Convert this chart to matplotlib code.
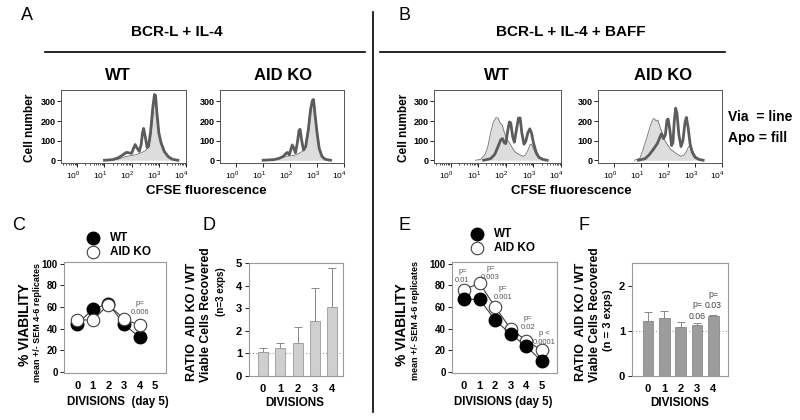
import matplotlib
matplotlib.use("Agg")
import matplotlib.pyplot as plt
import matplotlib.transforms as mtransforms
from matplotlib.lines import Line2D
from matplotlib.ticker import LogLocator, NullFormatter
import numpy as np

plt.rcParams["font.family"] = ["Liberation Sans", "DejaVu Sans"]
plt.rcParams["mathtext.fontset"] = "custom"
plt.rcParams["mathtext.rm"] = "Liberation Sans"
plt.rcParams["mathtext.bf"] = "Liberation Sans:bold"

# ---- flow histograms: (log10 CFSE, cell number) ----
a_wt_via_x = [1.0, 1.3, 1.5, 1.65, 1.8, 1.9, 2.0, 2.08, 2.13, 2.2, 2.28, 2.35, 2.4, 2.44, 2.5, 2.57,
              2.62, 2.7, 2.78, 2.84, 2.88, 2.93, 3.0, 3.08, 3.2, 3.35, 3.5, 3.7]
a_wt_via_y = [0, 3, 12, 25, 40, 38, 35, 65, 80, 62, 45, 80, 140, 162, 120, 65,
              70, 150, 270, 335, 330, 240, 140, 90, 45, 18, 5, 0]
a_wt_apo_x = [1.2, 1.5, 1.7, 1.9, 2.05, 2.2, 2.35, 2.5, 2.62, 2.7, 2.78, 2.84, 2.88, 2.93, 3.0,
              3.1, 3.2, 3.35, 3.5, 3.7]
a_wt_apo_y = [0, 5, 15, 22, 25, 30, 38, 48, 65, 110, 220, 310, 320, 250, 150,
              80, 40, 12, 3, 0]

a_ko_via_x = [1.0, 1.4, 1.6, 1.75, 1.85, 1.9, 1.97, 2.03, 2.08, 2.14, 2.2, 2.27, 2.33, 2.37, 2.43,
              2.5, 2.58, 2.68, 2.76, 2.83, 2.87, 2.92, 3.0, 3.08, 3.18, 3.3, 3.5]
a_ko_via_y = [0, 3, 10, 20, 35, 40, 28, 55, 78, 60, 38, 90, 150, 158, 100,
              52, 70, 160, 260, 305, 310, 240, 140, 60, 20, 5, 0]
a_ko_apo_x = [1.2, 1.5, 1.7, 1.85, 2.0, 2.15, 2.3, 2.45, 2.58, 2.68, 2.76, 2.83, 2.88, 2.95, 3.02,
              3.1, 3.2, 3.35, 3.5]
a_ko_apo_y = [0, 5, 12, 20, 22, 25, 32, 45, 70, 130, 230, 300, 305, 220, 130,
              60, 20, 5, 0]

b_wt_via_x = [1.2, 1.45, 1.6, 1.72, 1.82, 1.88, 1.95, 2.0, 2.07, 2.13, 2.18, 2.25, 2.31, 2.38, 2.46,
              2.52, 2.58, 2.66, 2.72, 2.8, 2.87, 2.93, 3.0, 3.1, 3.2, 3.35, 3.5]
b_wt_via_y = [0, 8, 30, 70, 105, 110, 88, 85, 150, 195, 190, 120, 92, 150, 215,
              215, 140, 82, 95, 140, 160, 140, 90, 40, 15, 4, 0]
b_wt_apo_x = [0.9, 1.1, 1.25, 1.35, 1.45, 1.55, 1.65, 1.72, 1.8, 1.87, 1.95, 2.05, 2.15, 2.25, 2.35,
              2.45, 2.55, 2.65, 2.72, 2.8, 2.88, 2.93, 3.0, 3.1, 3.2, 3.35, 3.5]
b_wt_apo_y = [0, 5, 30, 70, 140, 195, 218, 215, 190, 180, 140, 105, 85, 60, 40,
              32, 25, 20, 28, 50, 80, 82, 60, 28, 10, 2, 0]

b_ko_via_x = [0.9, 1.15, 1.3, 1.45, 1.6, 1.72, 1.76, 1.83, 1.9, 1.96, 2.0, 2.06, 2.13, 2.18, 2.23,
              2.28, 2.33, 2.4, 2.48, 2.55, 2.63, 2.68, 2.74, 2.82, 2.9, 3.0, 3.15, 3.3]
b_ko_via_y = [0, 8, 28, 55, 85, 125, 135, 110, 130, 205, 210, 160, 75, 90, 200,
              265, 240, 130, 70, 100, 195, 218, 170, 80, 40, 15, 4, 0]
b_ko_apo_x = [0.75, 0.95, 1.06, 1.2, 1.35, 1.45, 1.5, 1.56, 1.62, 1.7, 1.78, 1.88, 1.98, 2.1, 2.2,
              2.35, 2.48, 2.58, 2.68, 2.76, 2.82, 2.9, 3.0, 3.1, 3.25]
b_ko_apo_y = [0, 10, 50, 110, 180, 212, 210, 200, 205, 170, 140, 100, 78, 55, 45,
              30, 20, 25, 45, 70, 72, 50, 25, 8, 0]

# ---- viability (C, E) and ratio (D, F) ----
c_wt = [44, 58, 63, 44, 32]
c_ko = [48, 48, 62, 49, 43]
e_wt = [67, 67, 48, 35, 24, 10]
e_ko = [76, 82, 60, 40, 29, 20]
div_ticks = [0, 1, 2, 3, 4, 5]

d_div = [0, 1, 2, 3, 4]
d_ratio = [1.08, 1.25, 1.47, 2.43, 3.05]
d_err = [0.17, 0.22, 0.72, 1.45, 1.75]
f_ratio = [1.22, 1.28, 1.09, 1.13, 1.33]
f_err = [0.20, 0.16, 0.11, 0.04, 0.02]

W, H = 800, 420
fig = plt.figure(figsize=(8, 4.2), dpi=100)


def px_axes(l, t, r, b):
    return fig.add_axes([l / W, 1 - b / H, (r - l) / W, (b - t) / H])


def ftext(x, y, s, **kw):
    fig.text(x / W, 1 - y / H, s, **kw)


def hline(x1, x2, y, lw=1.2):
    fig.add_artist(Line2D([x1 / W, x2 / W], [1 - y / H] * 2, color="black", lw=lw,
                          transform=fig.transFigure))


def bold_ticks(ax):
    for lbl in ax.get_xticklabels() + ax.get_yticklabels():
        lbl.set_fontweight("bold")


def histo(l, r, via_x, via_y, apo_x, apo_y):
    ax = px_axes(l, 90, r, 163)
    px = np.power(10.0, apo_x)
    vx = np.power(10.0, via_x)
    ax.fill_between(px, 0, apo_y, color="#dddddd", lw=0)
    ax.plot(px, apo_y, color="#707070", lw=0.6)
    ax.plot(vx, via_y, color="#5c5c5c", lw=2.0)
    ax.set_xscale("log")
    ax.set_xlim(10 ** -0.6, 10 ** 4)
    ax.set_ylim(-14, 358)
    ax.set_yticks([0, 100, 200, 300])
    ax.set_xticks([1, 10, 100, 1000, 10000])
    ax.set_xticklabels([r"$10^{%d}$" % i for i in range(5)])
    ax.xaxis.set_minor_locator(LogLocator(base=10, subs=np.arange(2, 10)))
    ax.xaxis.set_minor_formatter(NullFormatter())
    ax.tick_params(axis="y", labelsize=6.5, length=3, width=0.6, pad=1)
    ax.tick_params(axis="x", which="major", labelsize=6, length=3, width=0.6, pad=1)
    ax.tick_params(axis="x", which="minor", length=1.5, width=0.5)
    shift = mtransforms.ScaledTranslation(3 / 100, 0, fig.dpi_scale_trans)
    for lbl in ax.get_xticklabels():
        lbl.set_ha("right")
        lbl.set_transform(lbl.get_transform() + shift)
    for lbl in ax.get_yticklabels():
        lbl.set_fontweight("bold")
    for s in ax.spines.values():
        s.set_color("#555555")
        s.set_linewidth(0.7)
    return ax


def viability(l, r, xlim, wt, ko, wt_top):
    ax = px_axes(l, 262, r, 373)
    ax.plot(div_ticks[:len(wt)], wt, color="#404040", lw=0.8, marker="o", ms=9, mfc="black",
            mec="black", zorder=4 if wt_top else 3)
    ax.plot(div_ticks[:len(ko)], ko, color="#404040", lw=0.8, marker="o", ms=9, mfc="white",
            mec="#404040", mew=0.8, zorder=3 if wt_top else 4)
    ax.set_xlim(*xlim)
    ax.set_ylim(-1, 101.5)
    ax.set_yticks([0, 20, 40, 60, 80, 100])
    ax.set_xticks(div_ticks)
    ax.tick_params(axis="y", labelsize=7, length=3, width=0.6, pad=1.5)
    ax.tick_params(axis="x", labelsize=8, length=0, pad=6)
    bold_ticks(ax)
    for s in ax.spines.values():
        s.set_color("#999999")
        s.set_linewidth(0.8)
    return ax


def ratio(l, r, xlim, ylim, yticks, vals, errs, color, edge, width):
    ax = px_axes(l, 263, r, 376)
    ax.bar(d_div, vals, width=width, color=color, edgecolor=edge, lw=0.6, zorder=2)
    ax.errorbar(d_div, vals, yerr=[np.zeros(len(errs)), errs], fmt="none", ecolor="#888888",
                elinewidth=0.7, capsize=3, capthick=0.7, zorder=1)
    ax.axhline(1, color="#999999", lw=0.8, ls=(0, (1, 2)), zorder=0)
    ax.set_xlim(*xlim)
    ax.set_ylim(*ylim)
    ax.set_yticks(yticks)
    ax.set_xticks(d_div)
    ax.tick_params(axis="y", labelsize=8, length=3, width=0.6, pad=2)
    ax.tick_params(axis="x", labelsize=8, length=0, pad=6)
    bold_ticks(ax)
    for s in ax.spines.values():
        s.set_color("#999999")
        s.set_linewidth(0.8)
    return ax


# ---- top row ----
ftext(21, 16, "A", fontsize=13, va="center")
ftext(398, 16, "B", fontsize=13, va="center")
ftext(177, 32, "BCR-L + IL-4", fontsize=11, fontweight="bold", ha="center", va="center")
ftext(571, 32, "BCR-L + IL-4 + BAFF", fontsize=11, fontweight="bold", ha="center", va="center")
hline(45, 365, 52)
hline(380, 725, 52)
fig.add_artist(Line2D([373 / W] * 2, [1 - 12 / H, 1 - 412 / H], color="black", lw=1.2,
                      transform=fig.transFigure))

for x, s in [(118, "WT"), (283, "AID KO"), (497, "WT"), (663, "AID KO")]:
    ftext(x, 76, s, fontsize=12, fontweight="bold", ha="center", va="center")

histo(61, 186, a_wt_via_x, a_wt_via_y, a_wt_apo_x, a_wt_apo_y)
histo(220, 344, a_ko_via_x, a_ko_via_y, a_ko_apo_x, a_ko_apo_y)
histo(434, 561, b_wt_via_x, b_wt_via_y, b_wt_apo_x, b_wt_apo_y)
histo(598, 722, b_ko_via_x, b_ko_via_y, b_ko_apo_x, b_ko_apo_y)

ftext(30, 128, "Cell number", fontsize=8.5, fontweight="bold", rotation=90, ha="center", va="center")
ftext(404, 128, "Cell number", fontsize=8.5, fontweight="bold", rotation=90, ha="center", va="center")
ftext(206, 191, "CFSE fluorescence", fontsize=9.5, fontweight="bold", ha="center", va="center")
ftext(571, 191, "CFSE fluorescence", fontsize=9.5, fontweight="bold", ha="center", va="center")
ftext(728, 117, "Via  = line", fontsize=10, fontweight="bold", va="center")
ftext(728, 138, "Apo = fill", fontsize=10, fontweight="bold", va="center")

# ---- bottom row ----
for x, s in [(12, "C"), (203, "D"), (398, "E"), (578, "F")]:
    ftext(x, 225, s, fontsize=13, va="center")


def legend(x, y):
    fig.add_artist(Line2D([x / W], [1 - y / H], marker="o", ms=9, mfc="black", mec="black",
                          transform=fig.transFigure))
    fig.add_artist(Line2D([x / W], [1 - (y + 14) / H], marker="o", ms=9, mfc="white",
                          mec="#404040", mew=0.8, transform=fig.transFigure))
    ftext(x + 17, y, "WT", fontsize=8.5, fontweight="bold", va="center")
    ftext(x + 17, y + 14, "AID KO", fontsize=8.5, fontweight="bold", va="center")


legend(93, 238)
legend(477, 234)

ax_c = viability(64, 166, (-0.85, 5.7), c_wt, c_ko, False)
ax_c.text(4.05, 59, "p=\n0.006", fontsize=5.5, color="#555555", ha="center", va="center",
          linespacing=1.4)
ftext(118, 402, "DIVISIONS  (day 5)", fontsize=8.3, fontweight="bold", ha="center", va="center")
ftext(25, 325, "% VIABILITY", fontsize=10, fontweight="bold", rotation=90, ha="center", va="center")
ftext(37, 322, "mean +/- SEM 4-6 replicates", fontsize=6.5, fontweight="bold", rotation=90,
      ha="center", va="center")

ax_e = viability(452, 557, (-0.78, 6.0), e_wt, e_ko, True)
for x, y, s in [(-0.1, 89, "p=\n0.01"), (1.7, 91, "p=\n0.003"), (2.5, 72.5, "p=\n0.001"),
                (4.1, 45, "p=\n0.02"), (5.2, 31.5, "p <\n0.0001")]:
    ax_e.text(x, y, s, fontsize=5.5, color="#555555", ha="center", va="center", linespacing=1.4)
ftext(503, 402, "DIVISIONS (day 5)", fontsize=8.3, fontweight="bold", ha="center", va="center")
ftext(402, 325, "% VIABILITY", fontsize=10, fontweight="bold", rotation=90, ha="center", va="center")
ftext(415, 320, "mean +/- SEM 4-6 replicates", fontsize=6.5, fontweight="bold", rotation=90,
      ha="center", va="center")

ratio(249, 343, (-0.8, 4.62), (0, 5), [0, 1, 2, 3, 4, 5], d_ratio, d_err,
      "#cfcfcf", "#9a9a9a", 0.58)
ftext(295, 403, "DIVISIONS", fontsize=8.4, fontweight="bold", ha="center", va="center")
ftext(192, 322, "RATIO  AID KO / WT", fontsize=9, fontweight="bold", rotation=90, ha="center", va="center")
ftext(206, 315, "Viable Cells Recovered", fontsize=8.8, fontweight="bold", rotation=90, ha="center", va="center")
ftext(221, 292, "(n=3 exps)", fontsize=7, fontweight="bold", rotation=90, ha="center", va="center")

ax_f = ratio(632, 728, (-0.98, 4.9), (0, 2.5), [0, 1, 2], f_ratio, f_err,
             "#9c9c9c", "#8a8a8a", 0.67)
ax_f.text(3, 1.45, "p=\n0.06", fontsize=6.3, color="#444444", ha="center", va="center", linespacing=1.3)
ax_f.text(4, 1.69, "p=\n0.03", fontsize=6.3, color="#444444", ha="center", va="center", linespacing=1.3)
ftext(680, 403, "DIVISIONS", fontsize=8.4, fontweight="bold", ha="center", va="center")
ftext(581, 322, "RATIO  AID KO / WT", fontsize=9, fontweight="bold", rotation=90, ha="center", va="center")
ftext(595, 315, "Viable Cells Recovered", fontsize=8.8, fontweight="bold", rotation=90, ha="center", va="center")
ftext(608, 320, "(n = 3 exps)", fontsize=8, fontweight="bold", rotation=90, ha="center", va="center")

fig.savefig("out.png", dpi=100)
